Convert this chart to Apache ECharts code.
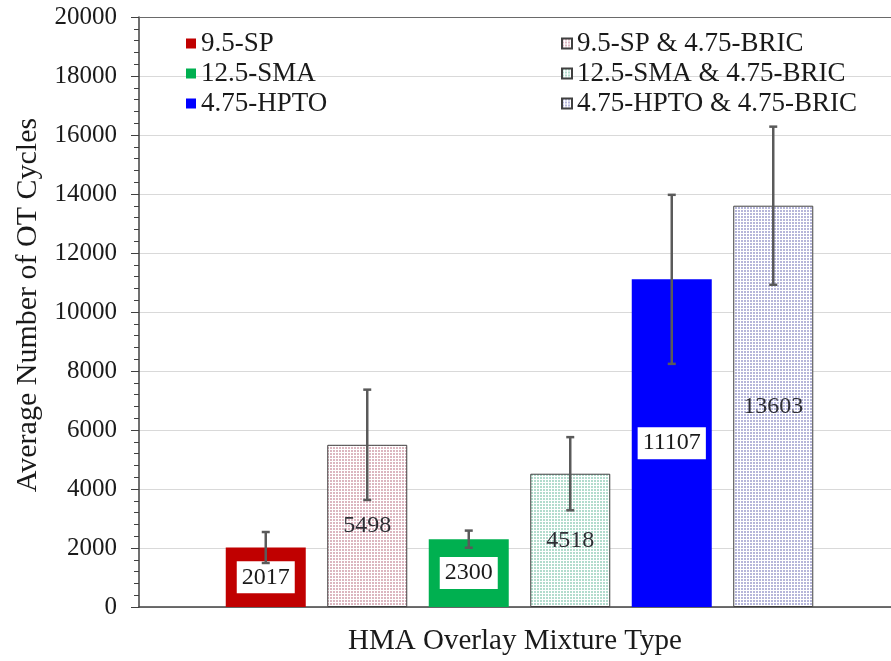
<!DOCTYPE html>
<html><head><meta charset="utf-8">
<script src="https://cdn.jsdelivr.net/npm/echarts@6/dist/echarts.min.js"></script>
<style>html,body{margin:0;padding:0;background:#fff}#c{width:891px;height:661px}</style>
</head><body><div id="c"></div>
<script>
// ---- data ----
const categories = ['9.5-SP', '9.5-SP & 4.75-BRIC', '12.5-SMA', '12.5-SMA & 4.75-BRIC', '4.75-HPTO', '4.75-HPTO & 4.75-BRIC'];
const values = [2017, 5498, 2300, 4518, 11107, 13603];
const errors = [525, 1870, 290, 1240, 2865, 2680];
const yMin = 0, yMax = 20000, yInterval = 2000;
const xName = 'HMA Overlay Mixture Type';
const yName = 'Average Number of OT Cycles';

// ---- styles ----
const styles = [
  { solid: '#C00000' },
  { dot: '#dcb6c0' },
  { solid: '#00B050' },
  { dot: '#b2dccd' },
  { solid: '#0000FF' },
  { dot: '#b6b6da' }
];
const FONT = 'Liberation Serif';
const TXT = '#1a1a1a';

function pattern(c) {
  const cv = document.createElement('canvas');
  cv.width = 3; cv.height = 3;
  const ctx = cv.getContext('2d');
  ctx.fillStyle = '#ffffff'; ctx.fillRect(0, 0, 3, 3);
  ctx.fillStyle = c; ctx.fillRect(0, 0, 2, 2);
  return { image: cv, repeat: 'repeat' };
}

const barSeries = categories.map((name, i) => {
  const s = styles[i];
  return {
    name, type: 'bar', xAxisIndex: 2, yAxisIndex: 1, barWidth: 80, barGap: '-100%', z: 2,
    data: values.map((v, j) => j === i ? v : '-'),
    itemStyle: s.solid ? { color: s.solid } : { color: pattern(s.dot), borderColor: '#404040', borderWidth: 1 },
    label: Object.assign({ show: true, position: 'inside', fontFamily: FONT, fontSize: 24, lineHeight: 24 },
      s.solid ? { color: TXT, backgroundColor: '#ffffff', padding: [4, 5] } : { color: '#2e2e34' }),
    emphasis: { disabled: true }
  };
});

const errSeries = {
  type: 'custom', xAxisIndex: 2, yAxisIndex: 1, z: 3, silent: true,
  data: values.map((v, i) => [i, v - errors[i], v + errors[i]]),
  renderItem(params, api) {
    const x = api.value(0);
    const lo = api.coord([x, api.value(1)]);
    const hi = api.coord([x, api.value(2)]);
    const w = 4;
    const st = { stroke: '#5a5a5a', lineWidth: 2.5 };
    return { type: 'group', children: [
      { type: 'line', shape: { x1: lo[0], y1: lo[1], x2: hi[0], y2: hi[1] }, style: st },
      { type: 'line', shape: { x1: hi[0] - w, y1: hi[1], x2: hi[0] + w, y2: hi[1] }, style: st },
      { type: 'line', shape: { x1: lo[0] - w, y1: lo[1], x2: lo[0] + w, y2: lo[1] }, style: st }
    ]};
  }
};

const legendBase = {
  orient: 'vertical', top: 25, itemWidth: 10, itemHeight: 10, itemGap: 3, icon: 'rect', selectedMode: false,
  textStyle: { fontFamily: FONT, fontSize: 27, color: TXT, lineHeight: 27 }
};

const hidden = { axisTick: { show: false }, axisLabel: { show: false }, splitLine: { show: false } };

const option = {
  animation: false,
  backgroundColor: '#ffffff',
  grid: [
    { left: 139, right: 0, top: 17, bottom: 54, outerBoundsMode: 'none' },
    { left: 215, right: 67, top: 17, bottom: 54, outerBoundsMode: 'none' }
  ],
  legend: [
    Object.assign({}, legendBase, { left: 181, data: [categories[0], categories[2], categories[4]] }),
    Object.assign({}, legendBase, { left: 556, data: [categories[1], categories[3], categories[5]] })
  ],
  xAxis: [
    Object.assign({ gridIndex: 0, type: 'value', min: 0, max: 1, position: 'bottom',
      axisLine: { show: true, onZero: false, lineStyle: { color: '#404040', width: 1.5 } },
      name: xName, nameLocation: 'middle', nameGap: 20,
      nameTextStyle: { fontFamily: FONT, fontSize: 29, color: TXT } }, hidden),
    Object.assign({ gridIndex: 0, type: 'value', min: 0, max: 1, position: 'top',
      axisLine: { show: true, onZero: false, lineStyle: { color: '#6a6a6a', width: 1.2 } } }, hidden),
    { gridIndex: 1, type: 'category', data: categories, show: false }
  ],
  yAxis: [
    { gridIndex: 0, type: 'value', min: yMin, max: yMax, interval: yInterval,
      axisLine: { show: true, onZero: false, lineStyle: { color: '#404040', width: 1.5 } },
      axisTick: { show: true, length: 8, lineStyle: { color: '#404040' } },
      minorTick: { show: true, splitNumber: 5, length: 5, lineStyle: { color: '#404040' } },
      splitLine: { show: true, lineStyle: { color: '#d9d9d9', width: 1 } },
      minorSplitLine: { show: false },
      axisLabel: { fontFamily: FONT, fontSize: 25, color: TXT, margin: 22, formatter: v => String(v) },
      name: yName, nameLocation: 'middle', nameGap: 92,
      nameTextStyle: { fontFamily: FONT, fontSize: 30, color: TXT, padding: [0, 0, 0, 14] } },
    { gridIndex: 1, type: 'value', min: yMin, max: yMax, show: false }
  ],
  series: barSeries.concat([errSeries])
};

const chart = echarts.init(document.getElementById('c'), null, { renderer: 'canvas' });
chart.setOption(option);
</script>
</body></html>
